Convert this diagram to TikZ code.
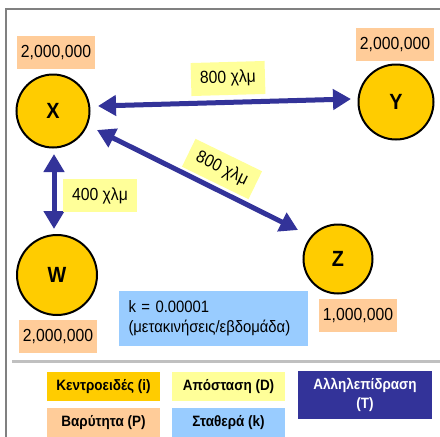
\documentclass[tikz,border=0pt]{standalone}
\usepackage{fontspec}
\setmainfont{Liberation Sans}[FakeStretch=0.9]
\usetikzlibrary{arrows.meta}
\definecolor{gold}{HTML}{FFCC00}
\definecolor{peach}{HTML}{FFCC99}
\definecolor{paleyellow}{HTML}{FFFF99}
\definecolor{skyblue}{HTML}{99CCFF}
\definecolor{navy}{HTML}{333399}
\definecolor{framegray}{HTML}{808080}
\definecolor{rulegray}{HTML}{C0C0C0}

\begin{document}
\begin{tikzpicture}[x=1pt,y=-1pt,
  city/.style={circle,draw=black,line width=2pt,fill=gold,inner sep=0pt,
    font=\fontsize{22}{24}\selectfont\bfseries},
  pop/.style={fill=peach,minimum width=78pt,minimum height=33pt,inner sep=0pt,
    font=\fontsize{17.5}{19}\selectfont},
  dist/.style={fill=paleyellow,minimum width=74pt,minimum height=33pt,inner sep=0pt,
    font=\fontsize{17.5}{19}\selectfont},
  legend/.style={minimum width=113pt,minimum height=29pt,inner sep=0pt,
    font=\fontsize{15}{17}\selectfont\bfseries},
  flow/.style={draw=navy,line width=5pt,
    {Triangle[length=18pt,width=20pt]}-{Triangle[length=18pt,width=20pt]}},
]
\useasboundingbox (0,0) rectangle (440,437);
\fill[white] (0,0) rectangle (440,437);

% frame and separator rule
\draw[framegray,line width=2pt] (6,437) -- (6,9) -- (440,9);
\draw[rulegray,line width=3pt] (12,361) -- (440,361);

% centroids
\node[city,minimum size=73pt] (X) at (53,111) {X};
\node[city,minimum size=75pt] (Y) at (396,102) {Y};
\node[city,minimum size=80pt] (W) at (57,275) {W};
\node[city,minimum size=69pt] (Z) at (338,259) {Z};

% populations
\node[pop] (pX) at (56,52.5) {2,000,000};
\node[pop] (pY) at (395,44.5) {2,000,000};
\node[pop] (pW) at (58,336.5) {2,000,000};
\node[pop] (pZ) at (358,315.5) {1,000,000};

% interactions
\draw[flow] ([shift={(7.5,-5)}]X.east) -- ([shift={(-6.5,-3)}]Y.west);
\draw[flow] ([shift={(44,19)}]X.center) -- ([shift={(-40,-29)}]Z.center);
\draw[flow] ([shift={(1,5.5)}]X.south) -- ([shift={(-3,-5)}]W.north);

% distances
\node[dist,rotate=1.6] (dXY) at (228,78.5) {800 χλμ};
\node[dist,rotate=-26,minimum height=31pt] (dXZ) at (222,169) {800 χλμ};
\node[dist] (dXW) at (100,195.5) {400 χλμ};

% constant
\node[fill=skyblue,minimum height=55pt,inner xsep=9.5pt,inner ysep=0pt,
  text width=170pt,align=left,font=\fontsize{16.5}{20}\selectfont]
  (k) at (213.5,318.5) {k = 0.00001\\(μετακινήσεις/εβδομάδα)};

% legend
\node[legend,fill=gold] (lI) at (103.5,386.5) {Κεντροειδές (i)};
\node[legend,fill=peach] (lP) at (103.5,422.5) {Βαρύτητα (P)};
\node[legend,fill=paleyellow] (lD) at (228.5,386.5) {Απόσταση (D)};
\node[legend,fill=skyblue] (lK) at (228.5,422.5) {Σταθερά (k)};
\node[legend,fill=navy,text=white,minimum width=134pt,minimum height=48pt,
  align=center,font=\fontsize{15}{19}\selectfont\bfseries]
  (lT) at (365,395) {Αλληλεπίδραση\\(T)};
\end{tikzpicture}
\end{document}
